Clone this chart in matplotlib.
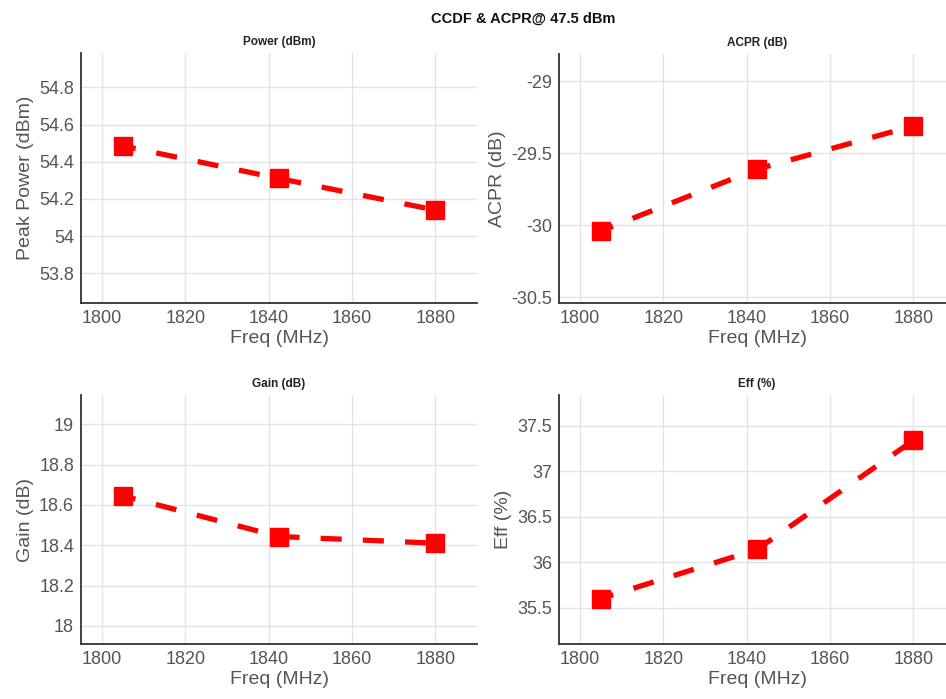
import matplotlib
matplotlib.use("Agg")
import matplotlib.pyplot as plt

plt.rcParams['font.family'] = ['Liberation Sans', 'DejaVu Sans']

freq = [1805, 1842.5, 1880]
peak_power = [54.485, 54.31, 54.14]
acpr = [-30.04, -29.61, -29.31]
gain = [18.645, 18.443, 18.41]
eff = [35.6, 36.14, 37.34]

titles = ["Power (dBm)", "ACPR (dB)", "Gain (dB)", "Eff (%)"]
ylabels = ["Peak Power (dBm)", "ACPR (dB)", "Gain (dB)", "Eff (%)"]
series = [peak_power, acpr, gain, eff]
yticks = [[53.8, 54, 54.2, 54.4, 54.6, 54.8],
          [-30.5, -30, -29.5, -29],
          [18, 18.2, 18.4, 18.6, 18.8, 19],
          [35.5, 36, 36.5, 37, 37.5]]
ytlabels = [["53.8", "54", "54.2", "54.4", "54.6", "54.8"],
            ["-30.5", "-30", "-29.5", "-29"],
            ["18", "18.2", "18.4", "18.6", "18.8", "19"],
            ["35.5", "36", "36.5", "37", "37.5"]]
xticks = [1800, 1820, 1840, 1860, 1880]
suptitle = "CCDF & ACPR@ 47.5 dBm"

W, H = 946, 699
fig = plt.figure(figsize=(W / 100, H / 100), dpi=100)
fig.patch.set_facecolor('white')

# axes rectangles in pixels: (left, bottom_px_from_top, top_px_from_top)
rects = [(81, 303, 53), (559, 303, 54), (81, 644, 395), (559, 644, 395)]
axw = 396
txt = '#555555'
for i, (l, b, t) in enumerate(rects):
    ax = fig.add_axes([l / W, 1 - b / H, axw / W, (b - t) / H])
    y = series[i]
    ax.plot(freq, y, color='#ff0000', linestyle=(1.5, (4.0, 4.0)), linewidth=3.8,
            marker='s', markersize=13, markerfacecolor='#ff0000',
            markeredgecolor='#ff0000', zorder=3)
    ax.set_xlim(1795, 1890)
    ax.set_ylim(min(y) - 0.5, max(y) + 0.5)
    ax.set_xticks(xticks)
    ax.set_xticklabels([str(v) for v in xticks])
    ax.set_yticks(yticks[i])
    ax.set_yticklabels(ytlabels[i])
    ax.grid(True, color='#e3e3e3', linewidth=1.0)
    ax.set_axisbelow(True)
    for s in ['top', 'right']:
        ax.spines[s].set_visible(False)
    for s in ['left', 'bottom']:
        ax.spines[s].set_color('#333333')
        ax.spines[s].set_linewidth(1.3)
    ax.tick_params(axis='both', labelsize=13, colors=txt, length=0, pad=5)
    ax.set_xlabel("Freq (MHz)", fontsize=14, color=txt, labelpad=2)
    ax.set_ylabel(ylabels[i], fontsize=14, color=txt, labelpad=4)
    ax.set_title(titles[i], fontsize=8.5, fontweight='bold', color='#222222', pad=6)

fig.text(523 / W, 1 - 19 / H, suptitle, ha='center', va='center',
         fontsize=10.5, fontweight='bold', color='#111111')

fig.savefig('out.png', dpi=100, facecolor='white')
